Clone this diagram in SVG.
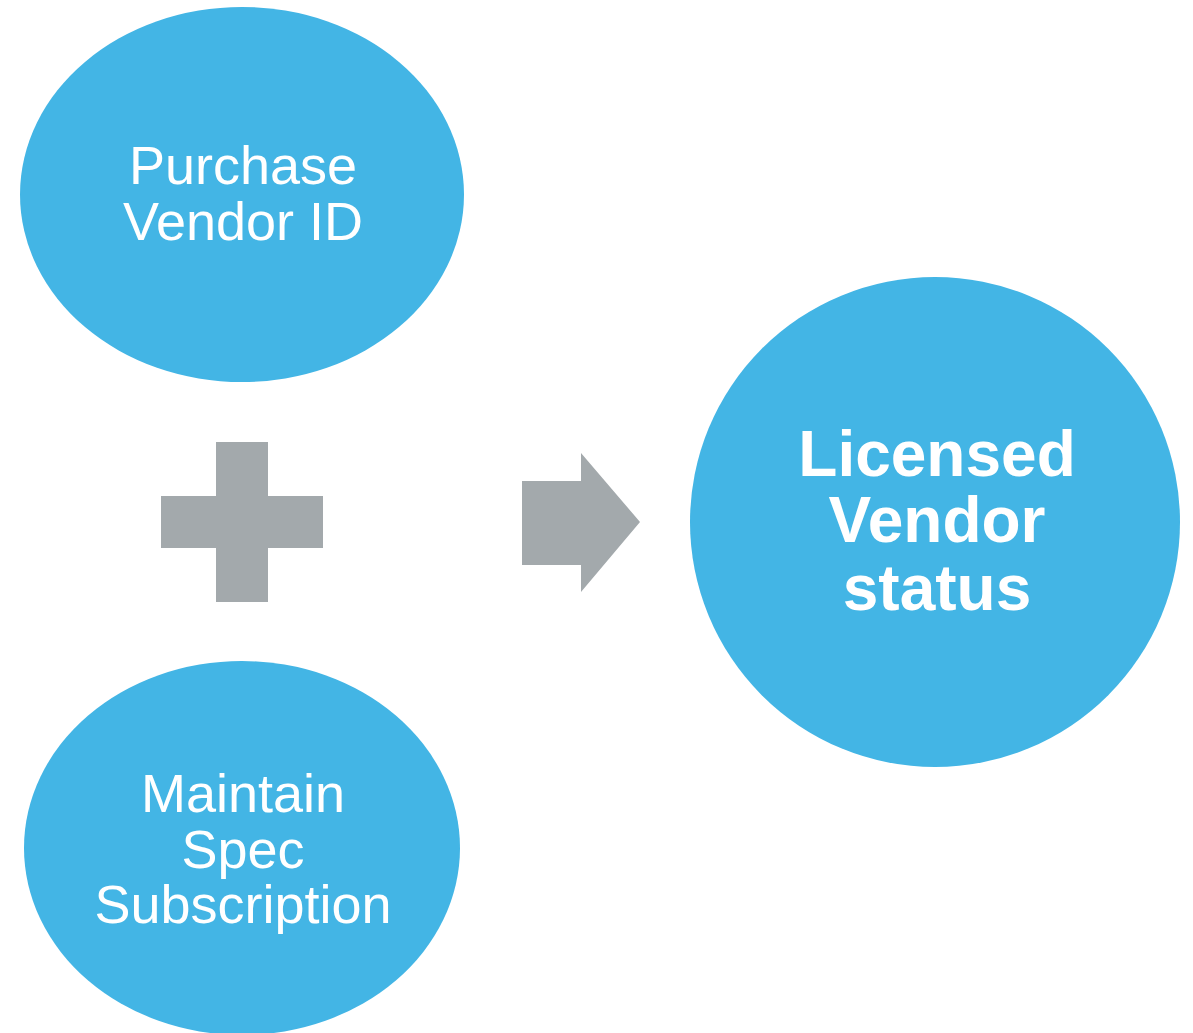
<svg xmlns="http://www.w3.org/2000/svg" width="1193" height="1033" viewBox="0 0 1193 1033">
  <style>
    .bubble { fill: #43B5E5; }
    .sym { fill: #A3A9AC; }
    .lbl { fill: #FFFFFF; font-family: "Liberation Sans", Arial, sans-serif; text-anchor: middle; }
    .reg { font-size: 54px; }
    .bold { font-size: 64px; font-weight: bold; }
  </style>
  <rect width="1193" height="1033" fill="#FFFFFF"/>

  <g id="purchase-vendor-id">
    <ellipse class="bubble" cx="242" cy="194.5" rx="222" ry="187.5"/>
    <text class="lbl reg"><tspan x="243" y="184">Purchase</tspan><tspan x="243" y="240">Vendor ID</tspan></text>
  </g>

  <g id="maintain-spec-subscription">
    <ellipse class="bubble" cx="242" cy="848" rx="218" ry="187"/>
    <text class="lbl reg"><tspan x="243" y="812">Maintain</tspan><tspan x="243" y="868">Spec</tspan><tspan x="243" y="923">Subscription</tspan></text>
  </g>

  <g id="licensed-vendor-status">
    <circle class="bubble" cx="935" cy="522" r="245"/>
    <text class="lbl bold"><tspan x="937" y="476">Licensed</tspan><tspan x="937" y="542">Vendor</tspan><tspan x="937" y="610">status</tspan></text>
  </g>

  <g id="connectors">
    <path class="sym" d="M216 442 H268 V496 H323 V548 H268 V602 H216 V548 H161 V496 H216 Z"/>
    <path class="sym" d="M522 481 H581 V453 L640 522 L581 592 V565 H522 Z"/>
  </g>
</svg>
